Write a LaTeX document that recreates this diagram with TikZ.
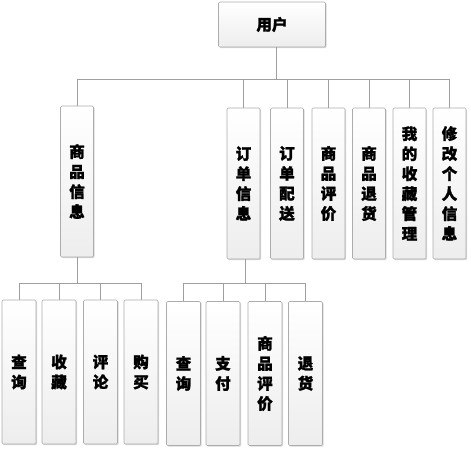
\documentclass[tikz,border=0pt]{standalone}
\usepackage{fontspec}
\newfontfamily\cjk{Noto Sans CJK SC}[BoldFeatures={FakeBold=1.6}]
\usetikzlibrary{shadows}
\tikzset{
  boxnode/.style={draw=gray!65, line width=0.6pt, rounded corners=1.2pt,
    top color=white, bottom color=gray!14, inner sep=0pt, align=center,
    drop shadow={opacity=0.3, shadow xshift=1.2pt, shadow yshift=-1.2pt},
    font=\cjk\bfseries\fontsize{15.5}{20}\selectfont},
  tall/.style={boxnode, minimum width=33pt, minimum height=151pt},
  low/.style={boxnode, minimum width=34pt, minimum height=144pt},
  link/.style={draw=gray!75, line width=0.8pt}
}
\begin{document}
\begin{tikzpicture}[x=1pt,y=-1pt]
\useasboundingbox (0,0) rectangle (471,450);
\node[boxnode, minimum width=107pt, minimum height=45pt] (root) at (272,24.5) {用户};
% level 2
\node[tall] (spxx) at (77,181.5) {商\\品\\信\\息};
\node[tall] (ddxx) at (243.5,183.5) {订\\单\\信\\息};
\node[tall] (ddps) at (287,183.5) {订\\单\\配\\送};
\node[tall] (sppj) at (328.5,183.5) {商\\品\\评\\价};
\node[tall] (spth) at (369,183.5) {商\\品\\退\\货};
\node[tall] (wdsc) at (409.5,183.5) {我\\的\\收\\藏\\管\\理};
\node[tall] (xggr) at (449.5,183.5) {修\\改\\个\\人\\信\\息};
% level 3 left
\node[low] (cx1) at (19,372) {查\\询};
\node[low] (sc1) at (59,372) {收\\藏};
\node[low] (pl1) at (100.5,372) {评\\论};
\node[low] (gm1) at (141,372) {购\\买};
% level 3 right
\node[low] (cx2) at (183.5,373.5) {查\\询};
\node[low] (zf2) at (223,373.5) {支\\付};
\node[low] (sp2) at (265,373.5) {商\\品\\评\\价};
\node[low] (th2) at (305.5,373.5) {退\\货};
% links
\foreach \c in {spxx,ddxx,ddps,sppj,spth,wdsc,xggr}
  \draw[link] ([xshift=4.5pt]root.south) -- ++(0,32.5) -| (\c.north);
\foreach \c in {cx1,sc1,pl1,gm1}
  \draw[link] (spxx.south) -- ++(0,26) -| (\c.north);
\foreach \c in {cx2,zf2,sp2,th2}
  \draw[link] ([xshift=1.5pt]ddxx.south) -- ++(0,24) -| (\c.north);
\end{tikzpicture}
\end{document}
